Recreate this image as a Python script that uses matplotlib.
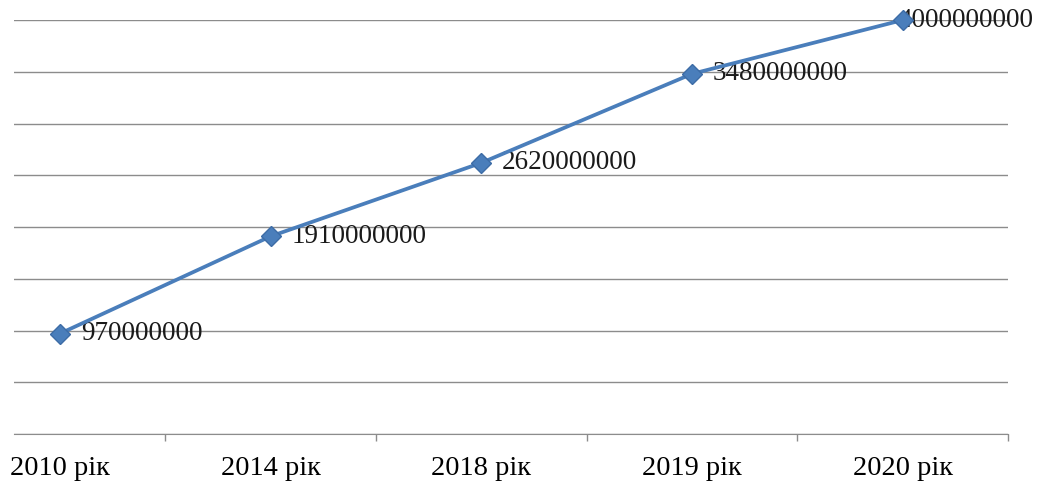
import matplotlib.pyplot as plt
import numpy as np

# categories and values of the series
years = ['2010 рік', '2014 рік', '2018 рік', '2019 рік', '2020 рік']
values = [970000000, 1910000000, 2620000000, 3480000000, 4000000000]

plt.rcParams['font.family'] = ['Liberation Serif', 'DejaVu Serif']

fig = plt.figure(figsize=(10.41, 4.86), dpi=100)
ax = fig.add_axes([0.01345, 0.107, 0.955, 0.8518])

x = np.arange(len(years))
ax.plot(x, values, color='#4a7ebb', linewidth=2.7, marker='D', markersize=10,
        markerfacecolor='#4a7ebb', markeredgecolor='#3d6ca6', zorder=4, clip_on=False)

# value labels to the right of each point, the last one pulled back inside the figure
for i, v in enumerate(values):
    if i == len(values) - 1:
        ax.annotate(str(v), xy=(0.993, v), xycoords=('figure fraction', 'data'),
                    fontsize=19.5, va='center', ha='right', color='#1a1a1a',
                    zorder=3, annotation_clip=False)
    else:
        ax.annotate(str(v), xy=(x[i], v), xytext=(15, 0), textcoords='offset points',
                    fontsize=19.5, va='center', ha='left', color='#1a1a1a', zorder=3)

ax.set_xlim(-0.218, 4.50)
ax.set_ylim(0, 4000000000)
ax.set_yticks(np.arange(0, 4000000001, 500000000))
ax.yaxis.grid(True, color='#8c8c8c', linewidth=1.0)
ax.set_axisbelow(True)
ax.tick_params(axis='y', length=0, labelleft=False)

ax.set_xticks(x)
ax.set_xticklabels(years, fontsize=20.5)
ax.set_xticks(np.arange(0.5, 4.6, 1.0), minor=True)
ax.tick_params(axis='x', which='major', length=0, pad=16)
ax.tick_params(axis='x', which='minor', length=5, color='#8c8c8c', width=1.0)

for side in ['top', 'right', 'left']:
    ax.spines[side].set_visible(False)
ax.spines['bottom'].set_color('#8c8c8c')

fig.savefig('out.png', dpi=100)
